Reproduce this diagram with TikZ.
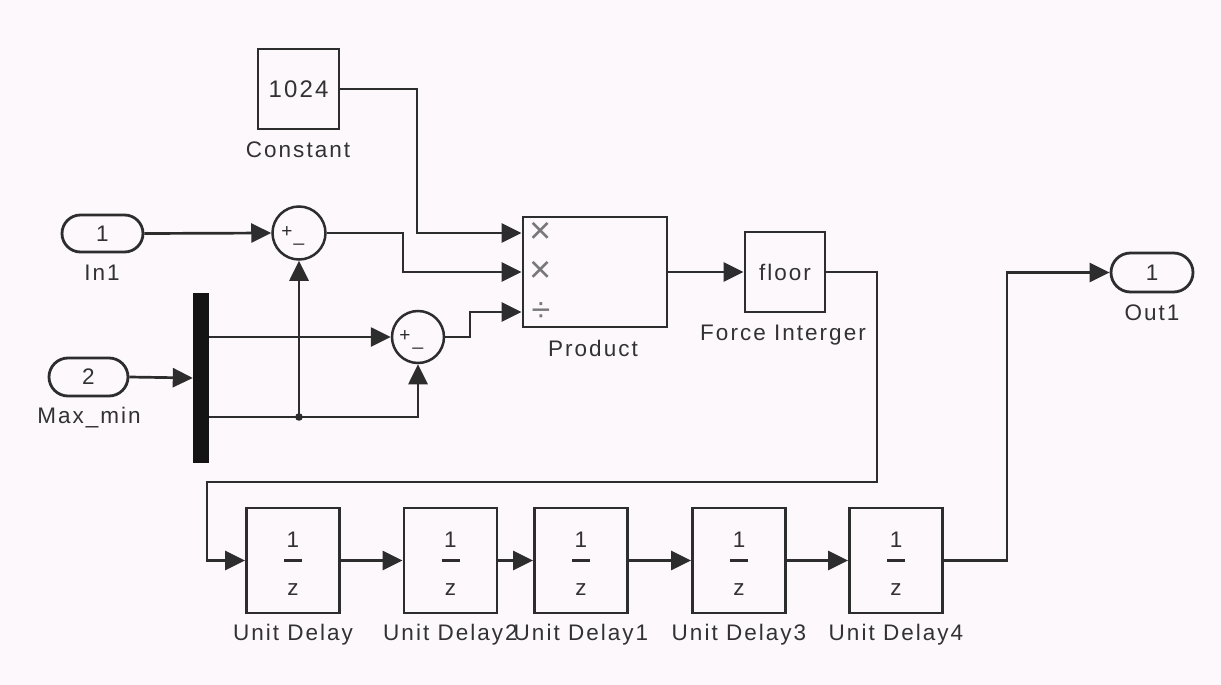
\documentclass[tikz,border=0pt]{standalone}
\usepackage{fontspec}
\setmainfont{Liberation Sans}
\newfontfamily\lblfont{Liberation Sans}[LetterSpace=9]
\usetikzlibrary{arrows.meta,shapes.misc,calc}
\definecolor{bg}{RGB}{252,248,252}
\definecolor{ln}{RGB}{45,45,45}
\definecolor{tx}{RGB}{50,50,50}
\definecolor{sym}{RGB}{120,120,120}
\tikzset{
  wire/.style={draw=ln, line width=2.7pt},
  sig/.style={wire, -{Triangle[length=20pt,width=19pt]}},
  blk/.style={draw=ln, line width=2.8pt, inner sep=0pt, text=tx,
    font=\lblfont\fontsize{22.5}{26}\selectfont},
  port/.style={blk, rounded rectangle, minimum width=81pt, minimum height=37pt},
  sumblk/.style={draw=ln, line width=2.5pt, circle, minimum size=53pt, inner sep=0pt},
  lbl/.style={inner sep=0pt, text=tx, font=\lblfont\fontsize{22.5}{26}\selectfont},
  sgn/.style={inner sep=0pt, text=ln, font=\fontsize{19}{19}\selectfont},
  psym/.style={inner sep=0pt, text=sym},
  delaybox/.style={blk, minimum width=93pt, minimum height=105pt},
}
\begin{document}
\begin{tikzpicture}[x=1pt,y=-1pt]
\fill[bg] (0,0) rectangle (1221,685);
\useasboundingbox (0,0) rectangle (1221,685);

% Constant
\node[blk, minimum width=81pt, minimum height=80pt, font=\lblfont\fontsize{24}{26}\selectfont] (const) at (298.5,89) {1024};
\node[lbl] (constl) at (298,150) {Constant};

% Inports
\node[port] (in1) at (102.5,233.5) {1};
\node[lbl] (in1l) at (102,273) {In1};
\node[port, minimum width=79pt, minimum height=38pt] (in2) at (88.5,377) {2};
\node[lbl] (in2l) at (89,418) {Max\_min};

% Demux bar
\node[fill=black!92, minimum width=16pt, minimum height=170pt, inner sep=0pt] (demux) at (201,378) {};

% Sums
\node[sumblk] (sum1) at (299,233) {};
\node[sgn] (s1p) at (287,232) {+};
\node[sgn] (s1m) at (299,243) {\_};
\node[sumblk, minimum size=52pt] (sum2) at (418,337) {};
\node[sgn] (s2p) at (405,336) {+};
\node[sgn] (s2m) at (418,347) {\_};

% Product
\node[blk, minimum width=144pt, minimum height=110pt] (prod) at (595,272) {};
\node[lbl] (prodl) at (593,348) {Product};
\coordinate (p1) at ($(prod.west)+(0,-39)$);
\coordinate (p2) at (prod.west);
\coordinate (p3) at ($(prod.west)+(0,40)$);
\node[psym, font=\fontsize{38}{38}\selectfont] (x1) at (541,233) {×};
\node[psym, font=\fontsize{38}{38}\selectfont] (x2) at (541,272) {×};
\node[psym, font=\fontsize{34}{34}\selectfont] (dv) at (541,312) {÷};

% Floor
\node[blk, minimum width=80pt, minimum height=80pt] (floor) at (785,272) {floor};
\node[lbl] (floorl) at (783,335) {Force Interger};

% Outport
\node[port, minimum width=82pt, minimum height=39pt] (out1) at (1152,272.5) {1};
\node[lbl] (out1l) at (1152,313) {Out1};

% Unit delays
\foreach \n/\x/\lab in {ud0/293/Unit Delay, ud1/450.5/Unit Delay2, ud2/581/Unit Delay1, ud3/739/Unit Delay3, ud4/896/Unit Delay4}{
  \node[delaybox] (\n) at (\x,560.5) {};
  \node[lbl] (\n one) at ($(\n.center)+(0,-21)$) {1};
  \draw[ln, line width=2.6pt] ($(\n.center)+(-9,0)$) -- ($(\n.center)+(9,0)$);
  \node[lbl] (\n z) at ($(\n.center)+(0,29)$) {z};
  \node[lbl] (\n l) at (\x,635) {\lab};
}

% Junction
\coordinate (jn) at (299,417);

% Connectors
\draw[sig] (const.east) -- (417,89) -- (417,233) -- (p1);
\draw[sig] (in1.east) -- (sum1.west);
\draw[sig] (sum1.east) -- (403,233) -- (403,272) -- (p2);
\draw[sig] (in2.east) -- (demux.west);
\draw[sig] (demux.east |- sum2.west) -- (sum2.west);
\draw[sig] (demux.east |- jn) -- (sum2.south |- jn) -- (sum2.south);
\draw[sig] (jn) -- (sum1.south);
\fill[ln] (jn) circle (3.8pt);
\draw[sig] (sum2.east) -- (470,337) -- (470,312) -- (p3);
\draw[sig] (prod.east) -- (floor.west);
\draw[sig] (floor.east) -- (877,272) -- (877,482) -- (207,482) -- (207,560.5) -- (ud0.west);
\draw[sig] (ud0.east) -- (ud1.west);
\draw[sig] (ud1.east) -- (ud2.west);
\draw[sig] (ud2.east) -- (ud3.west);
\draw[sig] (ud3.east) -- (ud4.west);
\draw[sig] (ud4.east) -- (1007,560.5) -- (1007,272.5) -- (out1.west);
\end{tikzpicture}
\end{document}
